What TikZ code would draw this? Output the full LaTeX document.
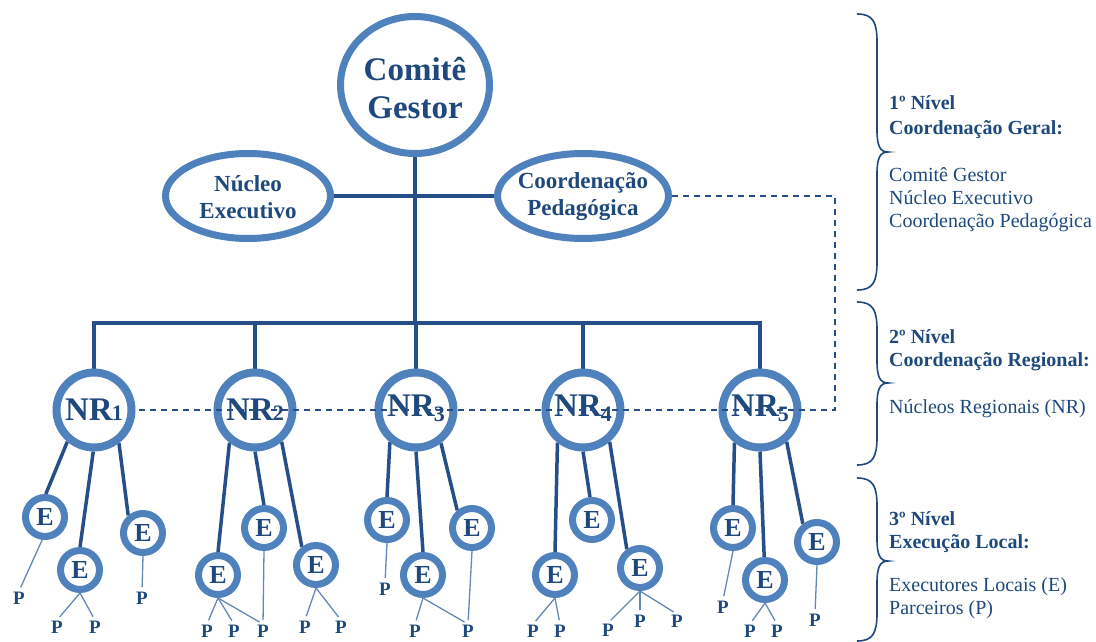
\documentclass[tikz,border=0pt]{standalone}
\usepackage{fontspec}
\setmainfont{Liberation Serif}
\usetikzlibrary{shapes.geometric,backgrounds}
\definecolor{ringcol}{RGB}{79,129,189}
\definecolor{navy}{RGB}{31,73,125}
\definecolor{lnkcol}{RGB}{38,78,136}
\definecolor{thincol}{RGB}{100,135,182}
\newcommand{\dgS}[1]{{\fontsize{22}{22}\selectfont #1}}
\newcommand{\dgD}[1]{\raisebox{-5pt}{\fontsize{22}{22}\selectfont #1}}
\newcommand{\mybrace}[3]{%
  \draw[bracestyle] (857,#1) .. controls (873,#1) and (877,{#1+8}) .. (877,{#1+28})
    -- (877,{#2-22}) .. controls (877,{#2-6}) and (880,#2) .. (888,#2)
    .. controls (880,#2) and (877,{#2+6}) .. (877,{#2+22})
    -- (877,{#3-28}) .. controls (877,{#3-8}) and (873,#3) .. (857,#3);}
\tikzset{
  ecirc/.style={circle, draw=ringcol, line width=7pt, fill=white, inner sep=0pt,
    minimum size=39pt, text=navy, font=\bfseries\fontsize{26}{26}\selectfont},
  nrcirc/.style={circle, draw=ringcol, line width=8pt, fill=white, inner sep=0pt, minimum size=75pt},
  oval/.style={ellipse, draw=ringcol, line width=7pt, fill=white, inner sep=0pt},
  nrtext/.style={text=navy, font=\bfseries\fontsize{33}{33}\selectfont, inner sep=0pt},
  bigtext/.style={text=navy, font=\bfseries\fontsize{33}{38}\selectfont, align=center, inner sep=0pt},
  midtext/.style={text=navy, font=\bfseries\fontsize{23}{27}\selectfont, align=center, inner sep=0pt},
  ptext/.style={text=navy, font=\bfseries\fontsize{19}{19}\selectfont, inner sep=0.5pt},
  tline/.style={draw=lnkcol, line width=3.5pt},
  pline/.style={draw=thincol, line width=1.3pt, shorten >=4pt},
  dashline/.style={draw=lnkcol, line width=1.4pt, dash pattern=on 6pt off 5pt},
  levbold/.style={text=navy, font=\bfseries\fontsize{20}{23}\selectfont, anchor=base west, inner sep=0pt},
  levtext/.style={text=navy, font=\fontsize{20}{23}\selectfont, anchor=base west, inner sep=0pt},
  bracestyle/.style={draw=navy, line width=1.6pt}
}
\begin{document}
\begin{tikzpicture}[x=1pt,y=-1pt]
\useasboundingbox (0,0) rectangle (1096,642);
% top level
\node[oval, minimum width=149pt, minimum height=137pt] (cg) at (415,85) {};
\node[bigtext] (cgt) at (415,88) {Comitê\\Gestor};
\node[oval, minimum width=165pt, minimum height=85pt] (ne) at (248,196) {};
\node[midtext] (net) at (248,197) {Núcleo\\Executivo};
\node[oval, minimum width=171pt, minimum height=85pt] (cp) at (583,196) {};
\node[midtext] (cpt) at (583,197) {Coordenação\\Pedagógica};
% regional
\node[nrcirc] (nr1) at (94,410) {};
\node[nrcirc] (nr2) at (255,410) {};
\node[nrcirc] (nr3) at (416,410) {};
\node[nrcirc] (nr4) at (583,410) {};
\node[nrcirc] (nr5) at (760,410) {};
\node[nrtext] (t1) at (94,410) {NR\kern-1pt\dgS{1}};
\node[nrtext] (t2) at (255,410) {NR\kern-1pt\dgS{2}};
\node[nrtext] (t3) at (416,408) {NR\kern-1pt\dgD{3}};
\node[nrtext] (t4) at (583,408) {NR\kern-1pt\dgD{4}};
\node[nrtext] (t5) at (760,408) {NR\kern-1pt\dgD{5}};
% executors
\node[ecirc] (e11) at (45,517) {E};
\node[ecirc] (e12) at (80,570) {E};
\node[ecirc] (e13) at (143,533) {E};
\node[ecirc] (e21) at (218,575) {E};
\node[ecirc] (e22) at (264,528) {E};
\node[ecirc] (e23) at (316,565) {E};
\node[ecirc] (e31) at (387,520) {E};
\node[ecirc] (e32) at (423,575) {E};
\node[ecirc] (e33) at (472,528) {E};
\node[ecirc] (e41) at (555,575) {E};
\node[ecirc] (e42) at (592,520) {E};
\node[ecirc] (e43) at (640,568) {E};
\node[ecirc] (e51) at (733,528) {E};
\node[ecirc] (e52) at (765,580) {E};
\node[ecirc] (e53) at (817,542) {E};
% partners
\node[ptext] (p11) at (19,598) {P};
\node[ptext] (p12a) at (57,627) {P};
\node[ptext] (p12b) at (95,627) {P};
\node[ptext] (p13) at (142,598) {P};
\node[ptext] (p21a) at (207,631) {P};
\node[ptext] (p21b) at (234,631) {P};
\node[ptext] (p21c) at (263,631) {P};
\node[ptext] (p23a) at (305,627) {P};
\node[ptext] (p23b) at (341,627) {P};
\node[ptext] (p31) at (385,589) {P};
\node[ptext] (p32a) at (415,631) {P};
\node[ptext] (p32b) at (468,631) {P};
\node[ptext] (p41a) at (533,631) {P};
\node[ptext] (p41b) at (560,631) {P};
\node[ptext] (p43a) at (608,630) {P};
\node[ptext] (p43b) at (640,621) {P};
\node[ptext] (p43c) at (677,621) {P};
\node[ptext] (p51) at (723,607) {P};
\node[ptext] (p52a) at (750,631) {P};
\node[ptext] (p52b) at (777,631) {P};
\node[ptext] (p53) at (815,620) {P};
\coordinate (busy) at (0,323);
\coordinate (dcorner) at (835,410);
\begin{scope}[on background layer]
  \draw[tline] (cg.south) -- (cg.south |- busy);
  \draw[tline] (ne.east) -- (cp.west);
  \draw[tline] (nr1.north) -- (nr1.north |- busy) -- (nr5.north |- busy) -- (nr5.north);
  \foreach \n in {nr2,nr3,nr4} \draw[tline] (\n.north |- busy) -- (\n.north);
  \draw[tline] (nr1.230) -- (e11.88);
  \draw[tline] (nr1.269) -- (e12.90);
  \draw[tline] (nr1.307) -- (e13.130);
  \draw[tline] (nr2.232) -- (e21.90);
  \draw[tline] (nr2.270) -- (e22.90);
  \draw[tline] (nr2.310) -- (e23.128);
  \draw[tline] (nr3.231) -- (e31.90);
  \draw[tline] (nr3.270) -- (e32.90);
  \draw[tline] (nr3.307) -- (e33.130);
  \draw[tline] (nr4.232) -- (e41.90);
  \draw[tline] (nr4.270) -- (e42.95);
  \draw[tline] (nr4.310) -- (e43.125);
  \draw[tline] (nr5.232) -- (e51.90);
  \draw[tline] (nr5.270) -- (e52.92);
  \draw[tline] (nr5.310) -- (e53.128);
  % partner lines
  \draw[pline] (e11.263) -- (p11.north);
  \draw[pline] (e12.south) -- (p12a.north);
  \draw[pline] (e12.south) -- (p12b.north);
  \draw[pline] (e13.south) -- (p13.north);
  \draw[pline] (e21.south) -- (p21a.north);
  \draw[pline] (e21.south) -- (p21b.north);
  \draw[pline] (e21.south) -- (p21c.north);
  \draw[pline] (e22.south) -- (p21c.north);
  \draw[pline] (e23.south) -- (p23a.north);
  \draw[pline] (e23.south) -- (p23b.north);
  \draw[pline] (e31.south) -- (p31.north);
  \draw[pline] (e32.south) -- (p32a.north);
  \draw[pline] (e32.south) -- (p32b.north);
  \draw[pline] (e33.south) -- (p32b.north);
  \draw[pline] (e41.south) -- (p41a.north);
  \draw[pline] (e41.south) -- (p41b.north);
  \draw[pline] (e43.south) -- (p43a.north);
  \draw[pline] (e43.south) -- (p43b.north);
  \draw[pline] (e43.south) -- (p43c.north);
  \draw[pline] (e51.south) -- (p51.north);
  \draw[pline] (e52.south) -- (p52a.north);
  \draw[pline] (e52.south) -- (p52b.north);
  \draw[pline] (e53.south) -- (p53.north);
\end{scope}
\draw[dashline] (cp.east) -| (dcorner) -- (nr1.east);
% braces
\mybrace{14}{152}{290}
\mybrace{302}{383}{465}
\mybrace{478}{561}{641}
% level texts
\node[levbold] (l1a) at (889,110) {1º Nível};
\node[levbold] (l1b) at (889,134) {Coordenação Geral:};
\node[levtext] (l1c) at (889,181) {Comitê Gestor};
\node[levtext] (l1d) at (889,204) {Núcleo Executivo};
\node[levtext] (l1e) at (889,227) {Coordenação Pedagógica};
\node[levbold] (l2a) at (889,343) {2º Nível};
\node[levbold] (l2b) at (889,366) {Coordenação Regional:};
\node[levtext] (l2c) at (889,413) {Núcleos Regionais (NR)};
\node[levbold] (l3a) at (889,525) {3º Nível};
\node[levbold] (l3b) at (889,548) {Execução Local:};
\node[levtext] (l3c) at (889,591) {Executores Locais (E)};
\node[levtext] (l3d) at (889,614) {Parceiros (P)};
\end{tikzpicture}
\end{document}
